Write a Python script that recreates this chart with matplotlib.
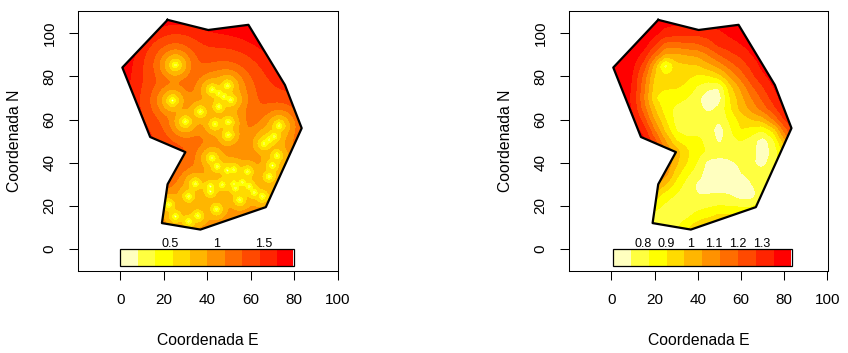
"""
Two kriging maps side by side: standard deviation (left) and prediction (right).
"""
import numpy as np
import matplotlib
matplotlib.use("Agg")
import matplotlib.pyplot as plt
from matplotlib.patches import Polygon, Rectangle

plt.rcParams["font.family"] = ["Liberation Sans", "DejaVu Sans"]

border_x = [21.7, 40.4, 58.9, 75.7, 83.4, 66.9, 36.8, 19.1, 21.7, 29.9, 13.7, 0.9, 21.7]
border_y = [106.2, 101.5, 103.9, 76.0, 56.0, 19.4, 9.0, 12.0, 30.0, 44.9, 51.9, 84.1, 106.2]

sample_x = [25.3, 24.0, 29.9, 36.8, 43.5, 49.6, 49.6, 42.2, 45.3, 49.2, 47.6, 50.7, 45.3, 73.0,
            70.7, 68.4, 66.1, 72.0, 70.0, 68.4, 42.2, 44.5, 49.2, 52.2, 58.4, 34.5, 41.4, 46.8,
            52.2, 56.1, 59.2, 61.5, 65.3, 54.9, 31.4, 44.2, 22.2, 25.3, 31.4, 35.6, 41.4, 53.0]
sample_y = [85.3, 68.8, 59.0, 63.6, 57.9, 58.8, 52.9, 73.8, 72.2, 75.6, 70.7, 69.1, 66.0, 57.1,
            52.2, 50.6, 48.8, 43.2, 38.7, 33.6, 42.1, 38.3, 36.4, 36.7, 35.8, 30.2, 29.0, 29.8,
            30.2, 30.9, 29.0, 26.2, 24.4, 22.8, 24.4, 18.5, 20.5, 15.1, 12.8, 15.4, 26.7, 28.2]

# left map: colour class reached at a given distance from the samples
left_dist = [0.0, 0.4, 0.9, 1.8, 3.2, 5.2, 7.4, 10.2, 14.2, 18.0, 30.0]
left_class = [0.0, 1.0, 2.0, 3.0, 4.0, 5.0, 6.0, 7.0, 8.0, 9.0, 10.0]

# right map: colour class read at every 5 units, rows from y=110 down to y=0
grid_x = list(range(0, 90, 5))
grid_y = list(range(110, -5, -5))
right_class = [
    [9.8, 9.8, 9.8, 9.8, 9.8, 9.8, 9.8, 9.8, 9.8, 9.8, 9.8, 9.8, 9.8, 9.8, 9.8, 9.8, 9.8, 9.8],
    [9.8, 9.8, 9.8, 9.8, 9.5, 9.3, 9.2, 9.2, 9.2, 9.3, 9.4, 9.5, 9.7, 9.8, 9.8, 9.8, 9.8, 9.8],
    [9.8, 9.8, 9.8, 9.8, 9.3, 8.6, 8.4, 8.3, 8.3, 8.5, 8.8, 9.2, 9.5, 9.8, 9.8, 9.8, 9.8, 9.8],
    [9.8, 9.8, 9.8, 9.5, 8.2, 6.6, 6.6, 6.8, 6.9, 7.5, 8.3, 8.6, 9.0, 9.5, 9.8, 9.8, 9.8, 9.8],
    [9.8, 9.8, 9.6, 8.6, 6.5, 4.7, 4.7, 5.0, 5.2, 6.0, 7.0, 7.7, 8.2, 9.0, 9.6, 9.8, 9.8, 9.8],
    [9.8, 9.8, 9.2, 7.5, 4.5, 1.2, 3.6, 3.8, 3.9, 4.6, 5.4, 6.5, 7.4, 8.3, 9.3, 9.8, 9.8, 9.8],
    [9.8, 9.8, 8.9, 6.6, 3.8, 3.3, 3.3, 3.2, 2.8, 2.8, 3.5, 5.0, 6.4, 7.7, 8.7, 9.5, 9.8, 9.8],
    [9.8, 9.8, 8.8, 6.2, 3.5, 3.2, 3.1, 2.8, 1.8, 1.2, 1.0, 3.6, 5.2, 6.8, 7.9, 9.0, 9.8, 9.8],
    [9.8, 9.8, 8.6, 6.0, 3.1, 2.2, 2.3, 2.0, 1.2, 0.3, 0.5, 3.0, 4.6, 6.0, 7.2, 8.4, 9.6, 9.8],
    [9.8, 9.8, 8.8, 6.4, 4.0, 2.4, 1.8, 1.5, 1.2, 0.8, 1.2, 2.8, 4.3, 5.3, 6.4, 7.6, 9.0, 9.8],
    [9.8, 9.8, 9.3, 7.4, 4.8, 3.0, 1.6, 1.2, 1.3, 1.4, 1.2, 2.2, 3.3, 4.0, 4.4, 6.0, 8.0, 9.3],
    [9.8, 9.8, 9.6, 8.6, 6.0, 3.7, 1.9, 1.4, 1.6, 1.5, 0.4, 1.8, 3.0, 2.5, 2.0, 3.2, 6.2, 8.5],
    [9.8, 9.8, 9.8, 9.3, 7.3, 5.0, 3.0, 2.4, 2.3, 1.6, 0.8, 1.6, 2.0, 1.4, 0.4, 1.6, 4.5, 7.0],
    [9.8, 9.8, 9.8, 9.5, 8.0, 6.0, 4.5, 3.2, 2.3, 1.9, 1.5, 1.5, 1.7, 1.3, 0.5, 1.2, 3.2, 5.0],
    [9.8, 9.8, 9.8, 9.5, 8.0, 6.0, 4.2, 3.0, 1.9, 0.6, 0.5, 0.8, 1.2, 1.1, 0.7, 1.4, 3.0, 4.5],
    [9.5, 9.0, 8.5, 7.5, 6.5, 5.5, 3.4, 2.2, 1.4, 0.4, 0.2, 0.2, 1.0, 1.2, 1.3, 2.0, 3.0, 4.0],
    [8.0, 7.5, 7.0, 6.0, 5.3, 4.0, 2.6, 1.6, 0.8, 0.7, 0.2, 0.2, 0.5, 1.0, 1.5, 2.2, 3.0, 4.0],
    [6.5, 6.0, 5.0, 4.3, 3.6, 2.4, 1.9, 1.3, 1.0, 1.0, 1.2, 1.0, 0.4, 0.5, 1.8, 3.0, 4.0, 5.0],
    [5.0, 4.5, 3.5, 3.0, 2.4, 1.8, 1.5, 1.4, 1.6, 1.8, 2.0, 1.9, 1.8, 1.7, 2.8, 4.0, 5.0, 6.0],
    [4.0, 3.5, 2.5, 2.0, 1.6, 1.2, 1.3, 1.8, 2.4, 2.8, 3.3, 3.3, 3.4, 4.0, 5.0, 6.0, 7.0, 7.0],
    [3.5, 3.0, 2.0, 1.8, 1.3, 1.3, 1.8, 2.8, 3.7, 4.5, 4.8, 5.0, 5.0, 5.0, 6.0, 7.0, 7.0, 7.0],
    [3.5, 3.0, 2.2, 2.0, 1.8, 2.0, 2.5, 3.5, 4.5, 5.0, 5.5, 5.5, 6.0, 6.0, 7.0, 7.0, 7.0, 7.0],
    [3.5, 3.0, 2.2, 2.0, 1.8, 2.0, 2.5, 3.5, 4.5, 5.0, 5.5, 5.5, 6.0, 6.0, 7.0, 7.0, 7.0, 7.0],
]

left_ticks = [0.5, 1, 1.5]
left_range = (-0.03, 1.83)
left_bar = (0.0, 80.0)
right_ticks = [0.8, 0.9, 1, 1.1, 1.2, 1.3]
right_range = (0.674, 1.428)
right_bar = (0.7, 83.6)

heat = ["#FFFFBF", "#FFFF40", "#FFFF00", "#FFDB00", "#FFB600",
        "#FF9200", "#FF6D00", "#FF4900", "#FF2400", "#FF0000"]
levels = np.arange(11)


def left_field(xx, yy):
    px = np.array(sample_x)[:, None, None]
    py = np.array(sample_y)[:, None, None]
    d = np.sqrt((xx - px) ** 2 + (yy - py) ** 2) + 1e-3
    # neighbours in a cluster pull the value down a little further than the nearest one alone
    d = (d ** -5.0).sum(axis=0) ** (-1 / 5.0)
    return np.interp(d, left_dist, left_class)


def right_field(xs, ys):
    # refine the read grid, then soften it so the bands do not look faceted
    gx = np.array(grid_x, dtype=float)
    gy = np.array(grid_y, dtype=float)[::-1]
    g = np.array(right_class)[::-1]
    by_x = np.array([np.interp(xs, gx, row) for row in g])
    z = np.array([np.interp(ys, gy, col) for col in by_x.T]).T
    kernel = np.hanning(17)
    kernel = kernel / kernel.sum()
    pad = 12
    z = np.pad(z, pad, mode="edge")
    z = np.apply_along_axis(lambda r: np.convolve(r, kernel, mode="same"), 0, z)
    z = np.apply_along_axis(lambda r: np.convolve(r, kernel, mode="same"), 1, z)
    return z[pad:-pad, pad:-pad]


def draw_map(ax, xs, ys, z, bar, ticks, zrange):
    xy = np.column_stack([border_x, border_y])
    clip = Polygon(xy, closed=True, transform=ax.transData, facecolor="none", edgecolor="none")
    ax.add_patch(clip)
    cs = ax.contourf(xs, ys, np.clip(z, 0.01, 9.99), levels=levels, colors=heat)
    cs.set_clip_path(clip)
    ax.plot(border_x, border_y, color="black", lw=1.6, solid_joinstyle="round", zorder=4)

    # colour key along the bottom of the map
    edges = np.linspace(bar[0], bar[1], 11)
    for i, c in enumerate(heat):
        right = edges[i + 1] if i < 9 else edges[i + 1] - 0.6
        ax.add_patch(Rectangle((edges[i], -8), right - edges[i], 8, facecolor=c, edgecolor="none", zorder=3))
    ax.add_patch(Rectangle((bar[0], -8), bar[1] - bar[0], 8, facecolor="none", edgecolor="black", lw=0.9, zorder=4))
    for t in ticks:
        pos = bar[0] + (t - zrange[0]) / (zrange[1] - zrange[0]) * (bar[1] - bar[0])
        ax.text(pos, 0.9, str(t), ha="center", va="baseline", fontsize=9)

    ax.set_xticks(range(0, 101, 20))
    ax.set_yticks(range(0, 101, 20))
    ax.tick_params(length=6.5, width=0.75, labelsize=11, pad=9)
    for label in ax.get_yticklabels():
        label.set_rotation(90)
        label.set_va("center")
    ax.set_xlabel("Coordenada E", fontsize=11.3, labelpad=19)
    ax.set_ylabel("Coordenada N", fontsize=11.3, labelpad=15)
    for s in ax.spines.values():
        s.set_linewidth(0.75)


W, H = 848, 353
fig = plt.figure(figsize=(W / 100, H / 100), dpi=100)
ax1 = fig.add_axes([78 / W, 1 - 271 / H, 260 / W, 260 / H])
ax2 = fig.add_axes([569 / W, 1 - 271 / H, 259 / W, 260 / H])
ax1.set_xlim(-19.5, 100.1)
ax2.set_xlim(-19.6, 100.3)
for ax in (ax1, ax2):
    ax.set_ylim(-10.2, 110.3)

xs = np.linspace(-2, 90, 369)
ys = np.linspace(0, 110, 441)
xx, yy = np.meshgrid(xs, ys)
draw_map(ax1, xs, ys, left_field(xx, yy), left_bar, left_ticks, left_range)
draw_map(ax2, xs, ys, right_field(xs, ys), right_bar, right_ticks, right_range)

fig.savefig("out.png", dpi=100)
